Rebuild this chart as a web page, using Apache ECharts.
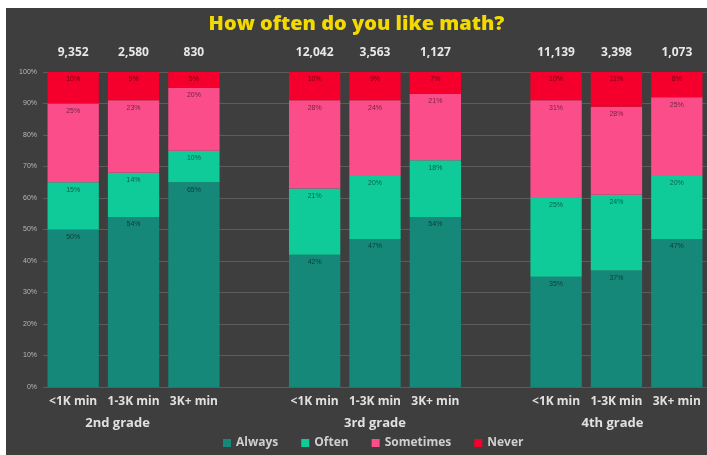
<!DOCTYPE html>
<html>
<head>
<meta charset="utf-8">
<script src="https://cdn.jsdelivr.net/npm/echarts@6/dist/echarts.min.js"></script>
<style>
html,body{margin:0;padding:0;background:#ffffff;width:707px;height:455px;overflow:hidden;}
#c{position:absolute;left:6px;top:8px;width:701px;height:447px;}
</style>
</head>
<body>
<div id="c"></div>
<script>
// categories (empty strings are spacer slots between grades)
var categories = ['<1K min','1-3K min','3K+ min','','<1K min','1-3K min','3K+ min','','<1K min','1-3K min','3K+ min'];
var groupLabels = ['','2nd grade','','','','3rd grade','','','','4th grade',''];
var totals = ['9,352','2,580','830','','12,042','3,563','1,127','','11,139','3,398','1,073'];
var seriesNames = ['Always','Often','Sometimes','Never'];
var always    = [50, 54, 65, '-', 42, 47, 54, '-', 35, 37, 47];
var often     = [15, 14, 10, '-', 21, 20, 18, '-', 25, 24, 20];
var sometimes = [25, 23, 20, '-', 28, 24, 21, '-', 31, 28, 25];
var never     = [10,  9,  5, '-', 10,  9,  7, '-', 10, 11,  8];
var yTicks = [0,10,20,30,40,50,60,70,80,90,100];

var colors = ['#16887a','#0fcb99','#fb4d89','#f5002c'];
var chart = echarts.init(document.getElementById('c'));
var segLabel = {
  show: true, position: 'insideTop', distance: 4,
  fontSize: 7, color: 'rgba(0,0,0,0.55)', fontFamily: 'Liberation Sans',
  formatter: function(p){ return p.value + '%'; }
};
function mk(name, data, i){
  return {name: name, type: 'bar', stack: 'a', data: data, barWidth: '85%',
    itemStyle: {color: colors[i]}, label: segLabel, clip: true, xAxisIndex: 0};
}
chart.setOption({
  backgroundColor: '#3e3e3e',
  animation: false,
  title: {
    text: 'How often do you like math?', left: 'center', top: 1,
    textStyle: {color: '#f2d900', fontSize: 20, fontWeight: 800, fontFamily: 'Open Sans'}
  },
  legend: {
    data: seriesNames, bottom: 1, left: 212, icon: 'rect', itemWidth: 8, itemHeight: 8, itemGap: 23,
    textStyle: {color: '#cfcfcf', fontSize: 12, fontWeight: 'bold', fontFamily: 'Open Sans'}
  },
  grid: {left: 37, right: 0, top: 64, bottom: 68},
  xAxis: [
    {type: 'category', data: categories, position: 'bottom',
     axisLine: {show: false}, axisTick: {show: false},
     axisLabel: {color: '#e0e0e0', fontSize: 12, fontWeight: 'bold', margin: 9, interval: 0, fontFamily: 'Open Sans'}},
    {type: 'category', data: totals, position: 'top',
     axisLine: {show: false}, axisTick: {show: false},
     axisLabel: {color: '#e8e8e8', fontSize: 12, fontWeight: 'bold', margin: 13, interval: 0, fontFamily: 'Open Sans'}},
    {type: 'category', data: groupLabels, position: 'bottom', offset: 21,
     axisLine: {show: false}, axisTick: {show: false},
     axisLabel: {color: '#e0e0e0', fontSize: 13, fontWeight: 'bold', margin: 9, interval: 0, fontFamily: 'Open Sans',
       formatter: function(v){
         if (v === '2nd grade') return '{g2|' + v + '}';
         if (v === '4th grade') return '{g4|' + v + '}';
         return v;
       },
       rich: {
         g2: {color: '#e0e0e0', fontSize: 13, fontWeight: 'bold', fontFamily: 'Open Sans', padding: [0, 32, 0, 0]},
         g4: {color: '#e0e0e0', fontSize: 13, fontWeight: 'bold', fontFamily: 'Open Sans', padding: [0, 8, 0, 0]}
       }}}
  ],
  yAxis: {
    type: 'value', min: yTicks[0], max: yTicks[yTicks.length-1], interval: 10,
    axisLine: {show: false}, axisTick: {show: false},
    axisLabel: {color: '#b8b8b8', fontSize: 7, margin: 6, fontFamily: 'Liberation Sans',
      formatter: function(v){ return v + '%'; }},
    splitLine: {lineStyle: {color: '#5c5c5c', width: 1}}
  },
  series: [
    mk(seriesNames[0], always, 0),
    mk(seriesNames[1], often, 1),
    mk(seriesNames[2], sometimes, 2),
    mk(seriesNames[3], never, 3)
  ]
});
</script>
</body>
</html>
